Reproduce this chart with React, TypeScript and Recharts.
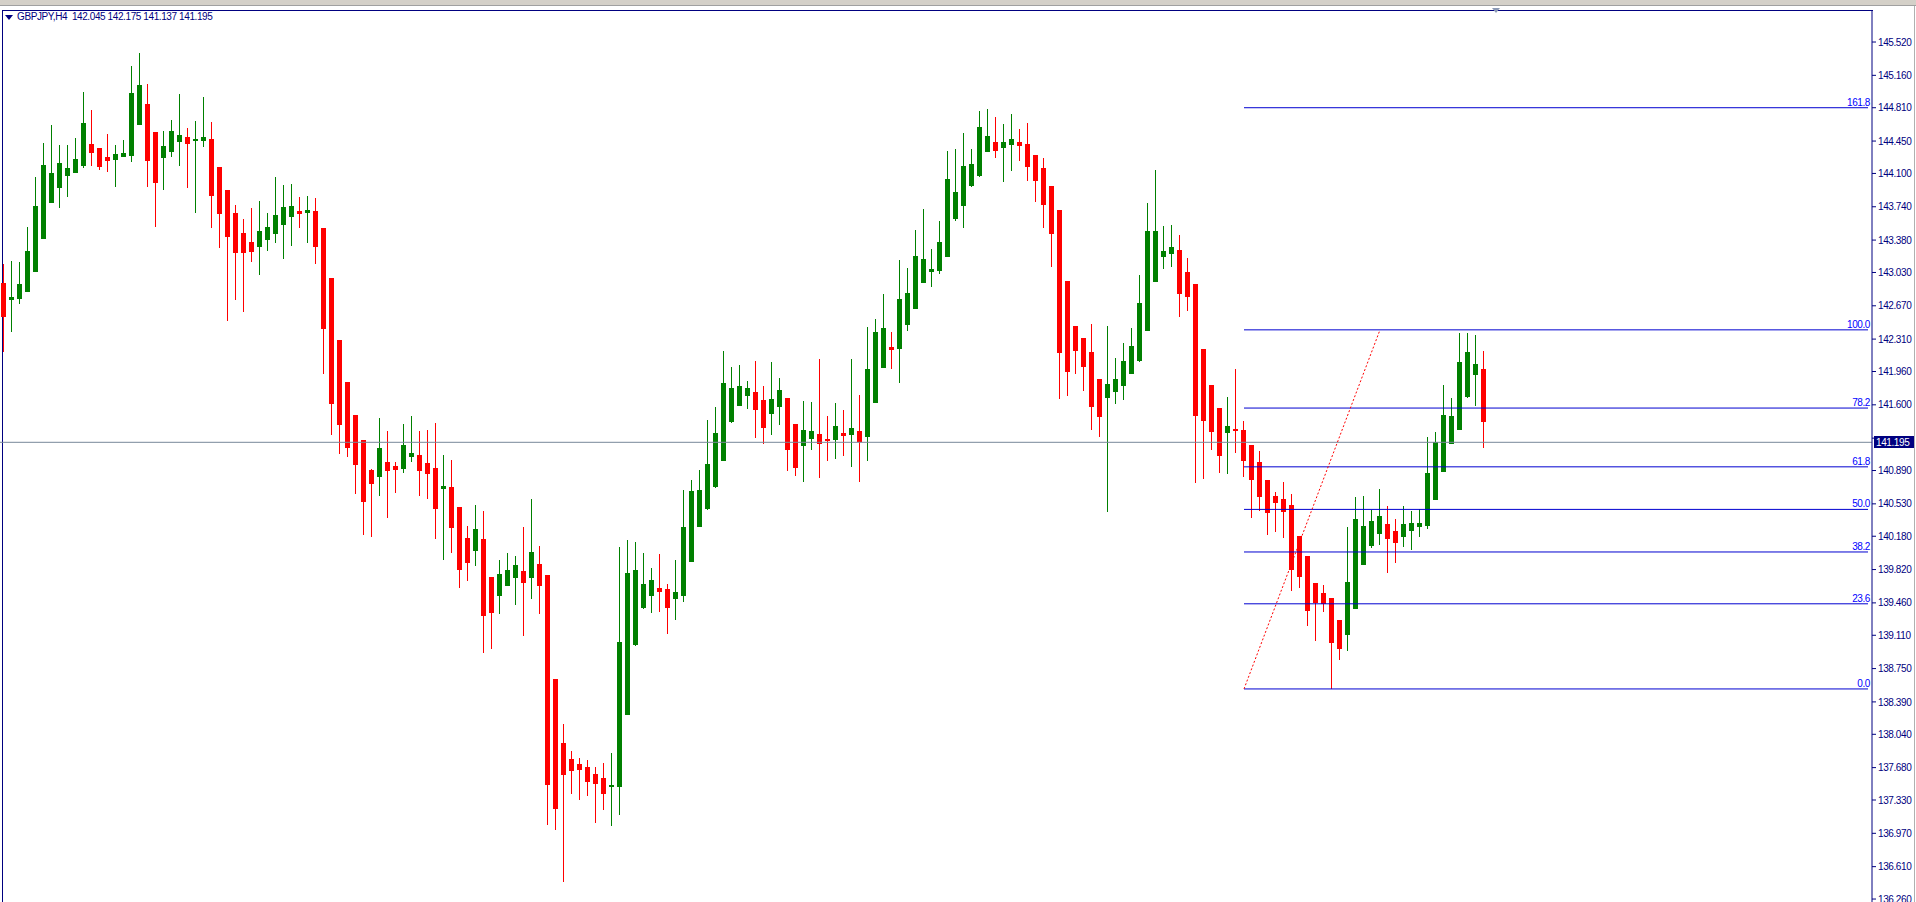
import { ComposedChart, Bar, XAxis, YAxis, ReferenceLine } from "recharts";

const symbolLine = "GBPJPY,H4  142.045 142.175 141.137 141.195";

// H4 candles, oldest first
const opens = [
  142.92, 142.73, 142.74, 142.82, 143.04, 143.39, 143.78, 143.94, 144.07, 144.11,
  144.18, 144.42, 144.37, 144.28, 144.25, 144.28, 144.29, 144.62, 144.85, 144.55,
  144.27, 144.33, 144.44, 144.49, 144.45, 144.45, 144.47, 144.17, 143.92, 143.67,
  143.46, 143.36, 143.3, 143.38, 143.45, 143.54, 143.63, 143.69, 143.67, 143.69,
  143.51, 142.97, 142.3, 141.85, 141.49, 141.22, 140.9, 140.82, 140.98, 140.94,
  140.91, 141.04, 141.06, 140.97, 140.92, 140.69, 140.71, 140.5, 140.16, 140.02,
  140.15, 139.74, 139.53, 139.64, 139.73, 139.8, 139.73, 139.88, 139.76, 138.64,
  137.95, 137.77, 137.72, 137.69, 137.61, 137.57, 137.47, 137.47, 138.25, 139.0,
  139.4, 139.53, 139.62, 139.61, 139.5, 139.53, 139.9, 140.28, 140.47, 140.71,
  140.99, 141.41, 141.59, 141.7, 141.74, 141.65, 141.5, 141.58, 141.67, 141.39,
  141.15, 141.23, 141.28, 141.23, 141.22, 141.3, 141.27, 141.32, 141.25, 141.62,
  142.0, 142.22, 142.2, 142.46, 142.64, 142.92, 143.04, 143.05, 143.2, 143.61,
  143.75, 143.96, 144.07, 144.33, 144.44, 144.37, 144.41, 144.44, 144.42, 144.3,
  144.16, 143.96, 143.7, 142.94, 142.45, 142.32, 142.17, 141.88, 141.67, 141.74,
  141.8, 141.93, 142.07, 142.4, 142.93, 143.2, 143.23, 143.27, 143.04, 142.91,
  142.2, 141.81, 141.57, 141.3, 141.34, 141.33, 141.17, 140.98, 140.79, 140.62,
  140.58, 140.52, 140.18, 139.97, 139.67, 139.57, 139.51, 139.27, 139.11, 139.39,
  139.87, 140.07, 140.2, 140.31, 140.24, 140.17, 140.24, 140.28, 140.29, 140.57,
  140.87, 141.18, 141.33, 141.68, 141.92, 141.99,
];
const highs = [
  143.12, 143.15, 143.14, 143.52, 144.06, 144.43, 144.62, 144.41, 144.41, 144.48,
  144.98, 144.79, 144.37, 144.53, 144.41, 144.46, 145.26, 145.4, 145.07, 144.55,
  144.56, 144.68, 144.96, 144.59, 144.67, 144.93, 144.66, 144.17, 143.92, 143.76,
  143.61, 143.73, 143.8, 143.67, 144.06, 143.97, 143.99, 143.85, 143.86, 143.83,
  143.51, 142.97, 142.3, 141.85, 141.49, 141.22, 140.91, 141.46, 141.32, 140.98,
  141.39, 141.48, 141.32, 141.33, 141.4, 141.06, 141.0, 140.5, 140.29, 140.52,
  140.45, 139.74, 139.92, 140.0, 139.97, 140.28, 140.58, 140.07, 139.76, 138.64,
  138.15, 137.86, 137.78, 137.76, 137.69, 137.73, 137.84, 140.06, 140.14, 140.12,
  140.0, 139.84, 139.99, 139.66, 139.92, 140.68, 140.79, 140.9, 141.44, 141.58,
  142.18, 142.01, 142.03, 141.86, 142.07, 141.8, 142.06, 141.89, 141.67, 141.39,
  141.64, 141.63, 142.1, 141.48, 141.62, 141.54, 142.1, 141.71, 142.44, 142.53,
  142.8, 142.39, 143.16, 143.08, 143.49, 143.72, 143.28, 143.59, 144.34, 144.36,
  144.54, 144.36, 144.78, 144.8, 144.71, 144.63, 144.74, 144.58, 144.64, 144.3,
  144.27, 143.96, 143.7, 142.94, 142.45, 142.32, 142.47, 141.88, 142.45, 142.11,
  142.27, 142.43, 143.0, 143.78, 144.14, 143.53, 143.54, 143.43, 143.19, 142.91,
  142.2, 141.81, 141.57, 141.68, 141.99, 141.43, 141.17, 141.1, 140.79, 140.66,
  140.77, 140.64, 140.18, 139.97, 139.67, 139.65, 139.51, 139.27, 140.28, 140.6,
  140.62, 140.46, 140.69, 140.51, 140.37, 140.51, 140.45, 140.47, 141.25, 141.31,
  141.81, 141.67, 142.38, 142.38, 142.35, 142.18,
];
const lows = [
  142.17, 142.38, 142.69, 142.82, 143.04, 143.39, 143.78, 143.73, 143.85, 144.11,
  144.16, 144.18, 144.13, 144.12, 143.96, 144.28, 144.22, 144.62, 143.96, 143.52,
  143.92, 144.28, 144.18, 143.94, 143.68, 144.39, 143.52, 143.3, 142.5, 142.73,
  142.61, 143.15, 143.0, 143.26, 143.35, 143.17, 143.32, 143.51, 143.35, 143.12,
  141.93, 141.27, 141.07, 141.04, 140.64, 140.19, 140.17, 140.62, 140.38, 140.64,
  140.86, 140.98, 140.62, 140.58, 140.15, 139.93, 139.99, 139.63, 139.7, 139.86,
  138.92, 138.96, 139.34, 139.64, 139.44, 139.1, 139.5, 139.34, 137.06, 137.01,
  136.44, 137.4, 137.33, 137.37, 137.08, 137.22, 137.05, 137.16, 138.25, 139.0,
  139.4, 139.35, 139.36, 139.12, 139.27, 139.47, 139.9, 140.28, 140.47, 140.71,
  140.99, 141.41, 141.59, 141.56, 141.24, 141.17, 141.27, 141.38, 140.88, 140.83,
  140.76, 141.11, 140.81, 140.99, 141.01, 141.04, 140.93, 140.77, 140.99, 141.62,
  142.0, 141.99, 141.83, 142.4, 142.64, 142.92, 142.87, 143.02, 143.2, 143.58,
  143.51, 143.95, 144.07, 144.33, 144.27, 144.0, 144.12, 144.23, 144.01, 143.79,
  143.51, 143.08, 141.66, 141.7, 141.93, 141.75, 141.33, 141.25, 140.44, 141.61,
  141.65, 141.93, 142.06, 142.4, 142.93, 143.06, 143.09, 142.54, 142.62, 140.76,
  140.8, 141.11, 140.87, 140.85, 141.08, 140.82, 140.38, 140.45, 140.2, 140.23,
  140.16, 139.59, 139.62, 139.21, 139.04, 139.36, 138.53, 138.84, 138.94, 139.39,
  139.87, 140.05, 140.09, 139.79, 139.89, 140.07, 140.03, 140.17, 140.26, 140.57,
  140.87, 141.18, 141.33, 141.68, 141.58, 141.13,
];
const closes = [
  142.55, 142.77, 142.91, 143.26, 143.75, 144.19, 144.11, 144.21, 144.16, 144.26,
  144.65, 144.32, 144.17, 144.23, 144.31, 144.32, 144.97, 145.06, 144.23, 144.0,
  144.4, 144.56, 144.52, 144.42, 144.47, 144.49, 143.86, 143.66, 143.41, 143.24,
  143.24, 143.25, 143.48, 143.52, 143.65, 143.74, 143.75, 143.66, 143.7, 143.3,
  142.42, 141.61, 141.38, 141.13, 140.95, 140.55, 140.74, 141.13, 140.89, 140.9,
  141.17, 141.08, 140.88, 140.85, 140.47, 140.72, 140.27, 139.81, 139.89, 140.26,
  139.32, 139.35, 139.77, 139.81, 139.87, 139.67, 140.01, 139.64, 137.49, 137.23,
  137.6, 137.64, 137.65, 137.52, 137.5, 137.39, 137.49, 139.04, 139.78, 139.81,
  139.66, 139.71, 139.58, 139.4, 139.58, 140.28, 140.67, 140.68, 140.96, 141.3,
  141.84, 141.78, 141.8, 141.78, 141.54, 141.35, 141.66, 141.76, 141.11, 140.92,
  141.33, 141.32, 141.18, 141.21, 141.37, 141.26, 141.35, 141.2, 141.99, 142.39,
  142.43, 142.19, 142.74, 142.81, 143.21, 143.18, 143.07, 143.36, 144.04, 143.9,
  144.18, 144.2, 144.6, 144.5, 144.34, 144.44, 144.47, 144.4, 144.17, 144.02,
  143.76, 143.45, 142.16, 141.95, 142.18, 142.01, 141.58, 141.47, 141.82, 141.88,
  142.07, 142.24, 142.7, 143.48, 143.48, 143.26, 143.3, 142.8, 142.77, 141.48,
  141.43, 141.31, 141.05, 141.37, 141.32, 140.99, 140.79, 140.6, 140.43, 140.54,
  140.44, 139.82, 139.74, 139.37, 139.46, 139.45, 139.03, 138.96, 139.69, 140.37,
  140.29, 140.35, 140.4, 140.15, 140.11, 140.31, 140.32, 140.32, 140.86, 141.2,
  141.49, 141.48, 142.06, 142.17, 142.04, 141.41,
];

// empty bar slots to the right of the last candle (chart shift area)
const emptySlots = 48;

const priceTicks = [
  145.52, 145.16, 144.81, 144.45, 144.1, 143.74, 143.38, 143.03, 142.67,
  142.31, 141.96, 141.6, 141.24, 140.89, 140.53, 140.18, 139.82, 139.46,
  139.11, 138.75, 138.39, 138.04, 137.68, 137.33, 136.97, 136.61, 136.26,
];
const priceDomain = [136.228, 145.866];
const lastPrice = 141.195;

// Fibonacci retracement drawn from bar 155 to bar 172
const fibFrom = 155;
const fibTo = 172;
const fibLow = 138.53;
const fibHigh = 142.41;
const fibNames = ["161.8", "100.0", "78.2", "61.8", "50.0", "38.2", "23.6", "0.0"];
const fibPrices = [144.81, 142.41, 141.565, 140.93, 140.47, 140.01, 139.45, 138.53];

const NAVY = "#000080";
const BULL = "#008000";
const BEAR = "#ff0000";
const FIB = "#0000d0";
const FONT = "'Liberation Sans', Arial, sans-serif";

const rows = Array.from({ length: opens.length + emptySlots }, (_, i) =>
  i < opens.length
    ? { slot: i, range: [lows[i], highs[i]], open: opens[i], close: closes[i] }
    : { slot: i, range: null, open: null, close: null }
);
const lastSlot = rows.length - 1;

const Candle = (props: any) => {
  const { x, y, width, height, payload } = props;
  if (!payload || payload.open == null || !isFinite(y)) return <g />;
  const [lo, hi] = payload.range;
  const span = hi - lo || 1;
  const toY = (v: number) => y + ((hi - v) / span) * height;
  const cx = x + width / 2;
  const bx = Math.round(cx - 2.5);
  const up = payload.close >= payload.open;
  const color = up ? BULL : BEAR;
  const top = Math.round(toY(Math.max(payload.open, payload.close)));
  const bottom = Math.round(toY(Math.min(payload.open, payload.close)));
  return (
    <g>
      <rect x={bx + 2} y={Math.round(y)} width={1} height={Math.max(1, Math.round(height))} fill={color} />
      <rect x={bx} y={top} width={5} height={Math.max(2, bottom - top)} fill={color} />
    </g>
  );
};

// price axis label; the one sitting under the bid box only shows its top edge
const PriceTick = (props: any) => {
  const { x, y, payload } = props;
  const hidden = Math.abs(payload.value - lastPrice) < 0.08;
  return (
    <g>
      {hidden && (
        <defs>
          <clipPath id="bid-cover">
            <rect x={x - 2} y={y - 9} width={50} height={4} />
          </clipPath>
        </defs>
      )}
      <text
        x={x}
        y={y}
        dy="0.36em"
        fill={NAVY}
        fontSize={10}
        fontFamily={FONT}
        letterSpacing={-0.4}
        clipPath={hidden ? "url(#bid-cover)" : undefined}
      >
        {Number(payload.value).toFixed(3)}
      </text>
    </g>
  );
};

const FibTag = (props: any) => {
  const { viewBox, text } = props;
  if (!viewBox) return null;
  return (
    <text
      x={viewBox.x + viewBox.width + 2}
      y={viewBox.y - 2}
      textAnchor="end"
      fill="#0000ff"
      fontSize={10}
      fontFamily={FONT}
      letterSpacing={-0.4}
    >
      {text}
    </text>
  );
};

const BidTag = (props: any) => {
  const { viewBox } = props;
  if (!viewBox) return null;
  const x = viewBox.x + viewBox.width;
  return (
    <g>
      <rect x={x + 2} y={Math.round(viewBox.y) - 6} width={40} height={12} fill={NAVY} />
      <text
        x={x + 4}
        y={viewBox.y}
        dy="0.36em"
        fill="#ffffff"
        fontSize={10}
        fontFamily={FONT}
        letterSpacing={-0.4}
      >
        {lastPrice.toFixed(3)}
      </text>
    </g>
  );
};

export default function App() {
  return (
    <div
      style={{
        position: "fixed",
        left: 0,
        top: 0,
        width: 1916,
        height: 902,
        background: "#ffffff",
        overflow: "hidden",
      }}
    >
      {/* terminal toolbar strip */}
      <div style={{ position: "absolute", left: 0, top: 0, width: 1916, height: 5, background: "#d4d0c8" }} />
      <div style={{ position: "absolute", left: 0, top: 5, width: 1916, height: 1, background: "#a0a0a0" }} />
      <div style={{ position: "absolute", left: 1914, top: 6, width: 1, height: 896, background: "#b0b0b0" }} />

      {/* chart frame */}
      <div
        style={{
          position: "absolute",
          left: 2,
          top: 10,
          width: 1870,
          height: 900,
          borderLeft: `1px solid ${NAVY}`,
          borderTop: `1px solid ${NAVY}`,
        }}
      />

      <div style={{ position: "absolute", left: 0, top: 0 }}>
        <ComposedChart
          width={1916}
          height={902}
          data={rows}
          margin={{ top: 10, right: 0, bottom: 0, left: 0 }}
        >
          <XAxis dataKey="slot" type="category" hide />
          <YAxis
            orientation="right"
            type="number"
            width={44}
            domain={priceDomain}
            allowDataOverflow
            ticks={priceTicks}
            interval={0}
            tick={<PriceTick />}
            tickSize={4}
            tickLine={{ stroke: NAVY }}
            axisLine={{ stroke: NAVY }}
          />
          <ReferenceLine y={lastPrice} stroke="#778899" label={<BidTag />} />
          {fibPrices.map((p, i) => (
            <ReferenceLine
              key={fibNames[i]}
              segment={[
                { x: fibFrom, y: p },
                { x: lastSlot, y: p },
              ]}
              stroke={FIB}
              strokeWidth={1}
              label={<FibTag text={fibNames[i]} />}
            />
          ))}
          <ReferenceLine
            segment={[
              { x: fibFrom, y: fibLow },
              { x: fibTo, y: fibHigh },
            ]}
            stroke={BEAR}
            strokeDasharray="2 2"
          />
          <Bar dataKey="range" shape={Candle} isAnimationActive={false} />
        </ComposedChart>
      </div>

      {/* symbol caption */}
      <div
        style={{
          position: "absolute",
          left: 5,
          top: 15,
          width: 0,
          height: 0,
          borderLeft: "4px solid transparent",
          borderRight: "4px solid transparent",
          borderTop: `5px solid ${NAVY}`,
        }}
      />
      <div
        style={{
          position: "absolute",
          left: 17,
          top: 11,
          fontFamily: FONT,
          fontSize: 10,
          letterSpacing: -0.4,
          lineHeight: "12px",
          color: NAVY,
          whiteSpace: "pre",
        }}
      >
        {symbolLine}
      </div>

      {/* chart shift marker */}
      <div
        style={{
          position: "absolute",
          left: 1492,
          top: 8,
          width: 0,
          height: 0,
          borderLeft: "4px solid transparent",
          borderRight: "4px solid transparent",
          borderTop: "5px solid #8a98b4",
        }}
      />
    </div>
  );
}
